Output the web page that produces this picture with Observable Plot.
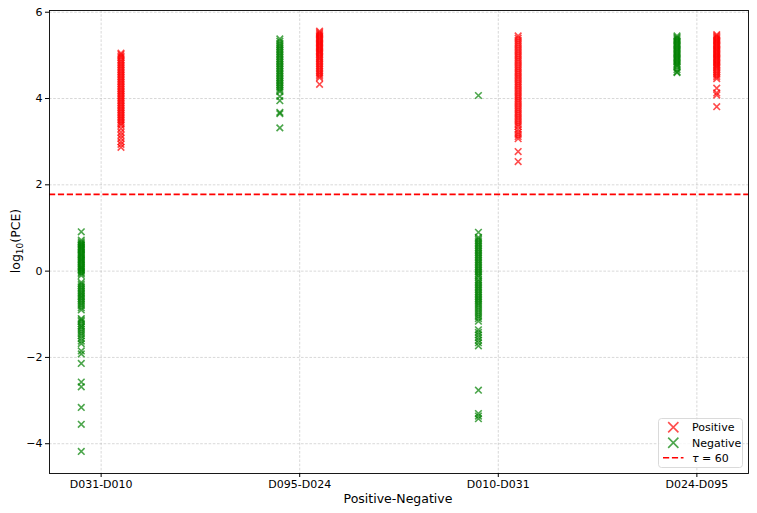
<!DOCTYPE html>
<html><head><meta charset="utf-8">
<script src="https://cdn.jsdelivr.net/npm/d3@7"></script>
<script src="https://cdn.jsdelivr.net/npm/@observablehq/plot@0.6"></script>
<style>
body{margin:0;background:#fff;}
#chart{position:relative;width:757px;height:513px;font-family:"DejaVu Sans",sans-serif;}
</style>
</head><body><div id="chart"></div>
<script>
const categories = ["D031-D010", "D095-D024", "D010-D031", "D024-D095"];
const yTicks = [-4, -2, 0, 2, 4, 6];
const tau = 60;

// Negative (green) values per pair
const neg_D031_D010 = [0.91, 0.72, 0.68, 0.65, 0.62, 0.6, 0.57, 0.55, 0.52, 0.5, 0.47, 0.44, 0.41, 0.38, 0.36, 0.33, 0.3, 0.27, 0.25, 0.22, 0.19, 0.16, 0.13, 0.1, 0.08, 0.05, 0.03, 0.0, -0.03, -0.06, -0.1, -0.26, -0.3, -0.34, -0.38, -0.42, -0.46, -0.5, -0.53, -0.57, -0.6, -0.64, -0.68, -0.72, -0.76, -0.8, -0.85, -0.9, -1.1, -1.13, -1.17, -1.22, -1.27, -1.3, -1.35, -1.4, -1.45, -1.5, -1.56, -1.62, -1.68, -1.85, -1.92, -2.14, -2.57, -2.68, -3.16, -3.55, -4.18];
const neg_D095_D024 = [5.38, 5.33, 5.28, 5.24, 5.2, 5.16, 5.12, 5.08, 5.04, 5.0, 4.96, 4.92, 4.88, 4.84, 4.8, 4.76, 4.72, 4.68, 4.64, 4.6, 4.56, 4.52, 4.48, 4.44, 4.4, 4.36, 4.32, 4.28, 4.24, 4.2, 4.16, 4.05, 3.95, 3.68, 3.65, 3.32];
const neg_D010_D031 = [4.07, 0.9, 0.78, 0.74, 0.7, 0.66, 0.62, 0.58, 0.54, 0.5, 0.46, 0.42, 0.38, 0.34, 0.3, 0.26, 0.22, 0.18, 0.14, 0.1, 0.06, 0.02, -0.02, -0.06, -0.1, -0.14, -0.2, -0.24, -0.28, -0.32, -0.36, -0.4, -0.44, -0.48, -0.52, -0.56, -0.6, -0.64, -0.68, -0.72, -0.76, -0.8, -0.85, -0.9, -0.95, -1.0, -1.05, -1.1, -1.16, -1.36, -1.42, -1.48, -1.54, -1.6, -1.66, -1.73, -2.76, -3.3, -3.36, -3.42];
const neg_D024_D095 = [5.45, 5.42, 5.39, 5.36, 5.33, 5.3, 5.27, 5.24, 5.21, 5.18, 5.15, 5.12, 5.09, 5.06, 5.03, 5.0, 4.97, 4.94, 4.91, 4.88, 4.85, 4.82, 4.79, 4.76, 4.73, 4.67, 4.62, 4.6];

// Positive (red) values per pair
const pos_D031_D010 = [5.05, 5.02, 4.98, 4.95, 4.9, 4.86, 4.82, 4.78, 4.74, 4.7, 4.66, 4.62, 4.58, 4.54, 4.5, 4.46, 4.42, 4.38, 4.34, 4.3, 4.26, 4.22, 4.18, 4.14, 4.1, 4.06, 4.02, 3.98, 3.94, 3.9, 3.86, 3.82, 3.78, 3.74, 3.7, 3.66, 3.62, 3.58, 3.54, 3.5, 3.46, 3.42, 3.38, 3.3, 3.22, 3.15, 3.08, 3.0, 2.94, 2.87];
const pos_D095_D024 = [5.56, 5.53, 5.5, 5.47, 5.44, 5.41, 5.38, 5.35, 5.32, 5.29, 5.26, 5.23, 5.2, 5.17, 5.14, 5.11, 5.08, 5.05, 5.02, 4.98, 4.95, 4.92, 4.88, 4.84, 4.8, 4.76, 4.72, 4.68, 4.64, 4.6, 4.56, 4.52, 4.48, 4.33];
const pos_D010_D031 = [5.45, 5.4, 5.35, 5.3, 5.25, 5.2, 5.15, 5.1, 5.05, 5.0, 4.95, 4.9, 4.85, 4.8, 4.75, 4.7, 4.65, 4.6, 4.55, 4.5, 4.45, 4.4, 4.35, 4.3, 4.25, 4.2, 4.15, 4.1, 4.05, 4.0, 3.95, 3.9, 3.85, 3.8, 3.75, 3.7, 3.65, 3.6, 3.55, 3.5, 3.45, 3.4, 3.35, 3.28, 3.22, 3.17, 3.12, 3.07, 2.77, 2.54];
const pos_D024_D095 = [5.48, 5.45, 5.42, 5.39, 5.36, 5.33, 5.3, 5.27, 5.24, 5.21, 5.18, 5.15, 5.12, 5.09, 5.06, 5.03, 5.0, 4.97, 4.94, 4.91, 4.88, 4.85, 4.82, 4.79, 4.76, 4.73, 4.7, 4.66, 4.62, 4.58, 4.54, 4.5, 4.46, 4.24, 4.13, 4.08, 3.81];

const negatives = [neg_D031_D010, neg_D095_D024, neg_D010_D031, neg_D024_D095];
const positives = [pos_D031_D010, pos_D095_D024, pos_D010_D031, pos_D024_D095];

const rows = [];
categories.forEach((c, i) => {
  positives[i].forEach(v => rows.push({pair: c, x: i + 0.1, y: v, kind: "Positive"}));
  negatives[i].forEach(v => rows.push({pair: c, x: i - 0.1, y: v, kind: "Negative"}));
});

const chart = Plot.plot({
  width: 757, height: 513,
  marginLeft: 49, marginRight: 9, marginTop: 10, marginBottom: 40,
  style: {fontFamily: "DejaVu Sans, sans-serif", fontSize: "11px", color: "#000", background: "#fff", overflow: "visible"},
  x: {domain: [-0.26, 3.26], label: null},
  y: {domain: [-4.69, 6.04], label: null},
  color: {domain: ["Positive", "Negative"], range: ["#ff0000", "#008000"]},
  marks: [
    Plot.gridX([0, 1, 2, 3], {stroke: "#b0b0b0", strokeOpacity: 0.7, strokeWidth: 0.7, strokeDasharray: "2.6,1.6"}),
    Plot.gridY(yTicks, {stroke: "#b0b0b0", strokeOpacity: 0.7, strokeWidth: 0.7, strokeDasharray: "2.6,1.6"}),
    Plot.dot(rows, {x: "x", y: "y", symbol: "times", r: 3.1, stroke: "kind", strokeWidth: 1.6, strokeOpacity: 0.7}),
    Plot.ruleY([Math.log10(tau)], {stroke: "#ff0000", strokeWidth: 1.6, strokeDasharray: "6.2,2.7"}),
    Plot.frame({stroke: "#000", strokeWidth: 0.9}),
    Plot.axisX({ticks: [0, 1, 2, 3], tickFormat: i => categories[i], tickSize: 4, tickPadding: 3, label: null}),
    Plot.axisY({ticks: yTicks, tickSize: 4, tickPadding: 3, label: null})
  ]
});

const host = document.getElementById("chart");
host.appendChild(chart);

const svg = d3.select(chart);
// axis labels
svg.append("text")
  .attr("x", 398).attr("y", 503)
  .attr("text-anchor", "middle")
  .attr("font-size", 12.5)
  .text("Positive-Negative");
const yl = svg.append("text")
  .attr("transform", "translate(20,241) rotate(-90)")
  .attr("text-anchor", "middle")
  .attr("font-size", 12.5);
yl.append("tspan").text("log");
yl.append("tspan").attr("font-size", 9).attr("dy", 3).text("10");
yl.append("tspan").attr("dy", -3).text("(PCE)");

// legend
const lg = svg.append("g").attr("text-anchor", "start");
lg.append("rect").attr("x", 658.5).attr("y", 418.5).attr("width", 84).attr("height", 49)
  .attr("rx", 3).attr("fill", "#fff").attr("fill-opacity", 0.8).attr("stroke", "#d0d0d0").attr("stroke-width", 0.8);
const sym = d3.symbol(d3.symbolTimes, 70)();
[["Positive", "#ff0000", 427.3], ["Negative", "#008000", 442.7]].forEach(([t, c, y]) => {
  lg.append("path").attr("d", sym).attr("transform", `translate(673.3,${y})`)
    .attr("fill", "none").attr("stroke", c).attr("stroke-width", 1.6).attr("stroke-opacity", 0.7);
  lg.append("text").attr("x", 692).attr("y", y + 4).attr("text-anchor", "start").attr("font-size", 11).text(t);
});
lg.append("line").attr("x1", 663).attr("x2", 683.5).attr("y1", 457.7).attr("y2", 457.7)
  .attr("stroke", "#ff0000").attr("stroke-width", 1.6).attr("stroke-dasharray", "6.2,2.7");
const tt = lg.append("text").attr("x", 692).attr("y", 461.7).attr("text-anchor", "start").attr("font-size", 11);
tt.append("tspan").attr("font-style", "italic").text("τ");
tt.append("tspan").text(" = 60");
</script>
</body></html>
